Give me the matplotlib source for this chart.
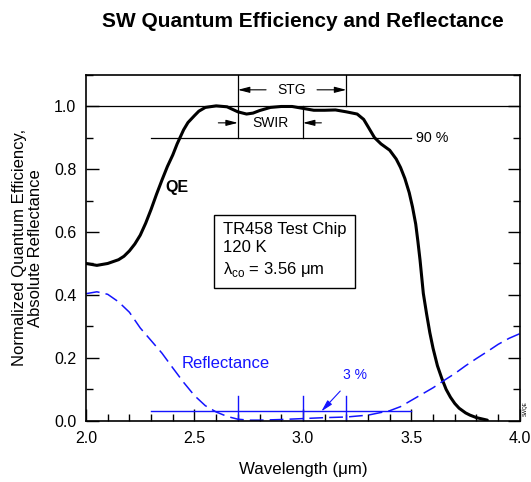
import matplotlib.pyplot as plt
from matplotlib.ticker import MultipleLocator

plt.rcParams['font.family'] = ['Liberation Sans', 'DejaVu Sans']
plt.rcParams['mathtext.fontset'] = 'custom'
plt.rcParams['mathtext.rm'] = 'Liberation Sans'

# normalized QE (black) and absolute reflectance (blue dashed)
qe_wl = [2.00, 2.05, 2.10, 2.15, 2.175, 2.20, 2.225, 2.25, 2.275, 2.30,
         2.325, 2.35, 2.375, 2.40, 2.42, 2.45, 2.47, 2.50, 2.52, 2.55,
         2.60, 2.65, 2.70, 2.74, 2.77, 2.80, 2.85, 2.90, 2.95, 3.00,
         3.05, 3.10, 3.15, 3.20, 3.25, 3.28, 3.30, 3.33, 3.36, 3.40,
         3.43, 3.45, 3.47, 3.49, 3.505, 3.52, 3.53, 3.54, 3.555, 3.57,
         3.585, 3.60, 3.62, 3.64, 3.66, 3.68, 3.70, 3.72, 3.75, 3.77,
         3.80, 3.85]
qe = [0.500, 0.494, 0.500, 0.512, 0.523, 0.540, 0.562, 0.590, 0.628, 0.672,
      0.720, 0.765, 0.808, 0.845, 0.880, 0.925, 0.948, 0.970, 0.984, 0.996,
      1.001, 0.998, 0.982, 0.975, 0.978, 0.986, 0.996, 0.999, 0.999, 0.993,
      0.987, 0.987, 0.988, 0.982, 0.975, 0.958, 0.935, 0.900, 0.880, 0.860,
      0.832, 0.805, 0.770, 0.725, 0.680, 0.625, 0.570, 0.510, 0.405, 0.340,
      0.280, 0.230, 0.175, 0.135, 0.100, 0.075, 0.055, 0.040, 0.025, 0.018,
      0.010, 0.002]

refl_wl = [2.00, 2.05, 2.10, 2.15, 2.20, 2.25, 2.30, 2.35, 2.40, 2.45,
           2.50, 2.55, 2.60, 2.65, 2.70, 2.75, 2.80, 2.90, 3.00, 3.10,
           3.20, 3.30, 3.35, 3.40, 3.45, 3.50, 3.55, 3.60, 3.65, 3.70,
           3.75, 3.80, 3.85, 3.90, 3.95, 4.00]
refl = [0.404, 0.410, 0.402, 0.378, 0.345, 0.295, 0.255, 0.215, 0.168, 0.122,
        0.080, 0.048, 0.028, 0.014, 0.005, 0.002, 0.002, 0.004, 0.007, 0.010,
        0.012, 0.018, 0.025, 0.032, 0.045, 0.065, 0.085, 0.105, 0.128, 0.150,
        0.175, 0.198, 0.220, 0.243, 0.262, 0.277]

# band edges (um)
stg_band = [2.7, 3.2]
swir_band = [2.7, 3.0]
band_marks = [2.7, 3.0, 3.2]
spec_range = [2.3, 3.5]
qe_spec = 0.90
refl_spec = 0.03

blue = '#1414ff'

fig = plt.figure(figsize=(5.31, 4.82), dpi=100)
ax = fig.add_axes([0.162, 0.127, 0.817, 0.718])

ax.plot(qe_wl, qe, color='black', lw=2.2, solid_joinstyle='round',
        solid_capstyle='round')
ax.plot(refl_wl, refl, color=blue, lw=1.1, dashes=(9, 4))

# spec lines
ax.plot([2.0, 4.0], [1.0, 1.0], color='black', lw=0.9)
ax.plot(spec_range, [qe_spec, qe_spec], color='black', lw=0.9)
ax.text(3.52, qe_spec, '90 %', fontsize=10.3, va='center', ha='left')

# STG and SWIR bands
for x in stg_band:
    ax.plot([x, x], [1.0, 1.1], color='black', lw=0.9)
for x in swir_band:
    ax.plot([x, x], [qe_spec, 1.0], color='black', lw=0.9)

arr = dict(arrowstyle='-|>,head_length=0.7,head_width=0.18', color='black', lw=0.8,
           shrinkA=0, shrinkB=0)
ax.text(2.95, 1.052, 'STG', fontsize=10, ha='center', va='center')
ax.annotate('', xy=(stg_band[0], 1.052), xytext=(2.83, 1.052), arrowprops=arr)
ax.annotate('', xy=(stg_band[1], 1.052), xytext=(3.065, 1.052), arrowprops=arr)

ax.text(2.85, 0.947, 'SWIR', fontsize=10, ha='center', va='center')
ax.annotate('', xy=(swir_band[0], 0.947), xytext=(2.61, 0.947), arrowprops=arr)
ax.annotate('', xy=(swir_band[1], 0.947), xytext=(3.085, 0.947), arrowprops=arr)

# reflectance spec
ax.plot(spec_range, [refl_spec, refl_spec], color=blue, lw=1.0)
for x in band_marks:
    ax.plot([x, x], [0, 0.08], color=blue, lw=1.0)
ax.annotate('3 %', xy=(3.085, refl_spec), xytext=(3.24, 0.145), color=blue,
            fontsize=10, ha='center', va='center',
            arrowprops=dict(arrowstyle='-|>,head_length=0.7,head_width=0.18',
                            color=blue, lw=0.8, shrinkA=6, shrinkB=0))

ax.text(2.44, 0.182, 'Reflectance', color=blue, fontsize=12, va='center')
ax.text(2.365, 0.741, 'QE', fontsize=11.5, fontweight='bold', va='center')

# device info box
ax.text(2.63, 0.542, 'TR458 Test Chip\n120 K\nλ$_{\\mathrm{co}}$ = 3.56 μm',
        fontsize=12, va='center', ha='left', linespacing=1.3,
        bbox=dict(boxstyle='square,pad=0.55', fc='white', ec='black', lw=1.0))

ax.set_xlim(2.0, 4.0)
ax.set_ylim(0.0, 1.1)
ax.xaxis.set_major_locator(MultipleLocator(0.5))
ax.xaxis.set_minor_locator(MultipleLocator(0.1))
ax.yaxis.set_major_locator(MultipleLocator(0.2))
ax.yaxis.set_minor_locator(MultipleLocator(0.1))
ax.set_xticks([2.0, 2.5, 3.0, 3.5, 4.0])
ax.set_yticks([0.0, 0.2, 0.4, 0.6, 0.8, 1.0])
ax.tick_params(which='both', direction='in', right=True, top=False,
               labelsize=11.5, width=1.0, pad=7)
ax.tick_params(which='major', length=9)
ax.tick_params(which='minor', length=5)
for s in ax.spines.values():
    s.set_linewidth(1.2)

ax.set_xlabel('Wavelength (μm)', fontsize=12.2, labelpad=12)
ax.set_ylabel('Normalized Quantum Efficiency,\nAbsolute Reflectance',
              fontsize=12, linespacing=1.05, labelpad=8)
ax.set_title('SW Quantum Efficiency and Reflectance', fontsize=15,
             fontweight='bold', pad=34)

fig.text(0.989, 0.153, 'SWQE', fontsize=3.5, rotation=90, ha='center', va='center')

fig.savefig('out.png', dpi=100)
